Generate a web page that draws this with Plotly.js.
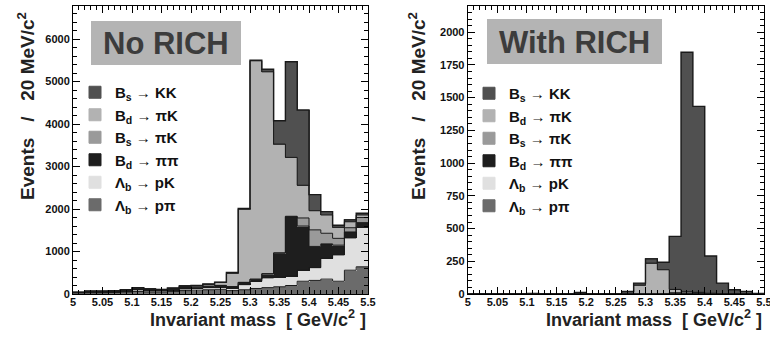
<!DOCTYPE html>
<html>
<head>
<meta charset="utf-8">
<script src="https://cdn.plot.ly/plotly-3.0.1.min.js"></script>
<style>html,body{margin:0;padding:0;background:#fff;}#chart{width:770px;height:337px;}</style>
</head>
<body>
<div id="chart"></div>
<script>
// Bin left edges (20 MeV/c^2 bins)
const massBins = [5.00,5.02,5.04,5.06,5.08,5.10,5.12,5.14,5.16,5.18,5.20,5.22,5.24,5.26,5.28,5.30,5.32,5.34,5.36,5.38,5.40,5.42,5.44,5.46,5.48];
const binWidth = 0.02;

// "No RICH" panel, one array per decay channel (events per bin)
const noRich_Lb_ppi  = [20,30,30,35,40,60,50,50,60,80,90,100,110, 80,100,130,150,170,200,300,320,350,300,560,640];
const noRich_Lb_pK   = [10,15,15,20,30,40,30,30,30,40,40,50,50, 60,120,170,230,230,220,260,300,490,620,760,930];
const noRich_Bd_pipi = [5,10,10,10,10,20,15,10,20,30,30,30,40, 30,50,45,90,560,1400,1040,500,340,230,140,110];
const noRich_Bs_piK  = [2,2,2,2,2,2,2,2,2,2,2,3,3, 5,5,5,10,10,10,190,390,250,160,100,120];
const noRich_Bd_piK  = [6,11,11,11,15,25,20,15,25,34,33,47,72, 315,1725,5140,4750,2560,1386,770,450,430,260,140,60];
const noRich_Bs_KK   = [2,2,2,2,3,3,3,3,3,4,5,5,5, 20,16,16,60,550,2251,1770,380,80,50,45,40];

// "With RICH" panel
const withRich_Lb_ppi  = [0,0,0,0,0,0,0,0,0,0,0,0,0,0,0,0,0,0,0,0,0,1,1,1,0];
const withRich_Lb_pK   = [0,0,0,0,0,0,0,0,0,0,0,0,0,0,0,0,0,0,0,1,2,2,1,1,0];
const withRich_Bd_pipi = [0,0,0,0,0,0,0,0,0,0,0,0,0,0,0,0,0,2,2,2,0,0,0,0,0];
const withRich_Bs_piK  = [0,0,0,0,0,0,0,0,0,0,0,0,0,0,0,0,0,8,5,5,3,0,0,0,0];
const withRich_Bd_piK  = [0,0,0,0,0,0,0,0,0,0,0,0,0,5,68,236,185,25,10,5,0,0,0,0,0];
const withRich_Bs_KK   = [0,3,3,0,2,5,3,2,2,12,3,2,3,15,15,32,57,405,1830,1420,285,80,30,18,5];

// Legend labels (stack order, bottom to top)
const channelNames = [
  '\u039B<sub>b</sub> \u2192 p\u03C0',
  '\u039B<sub>b</sub> \u2192 pK',
  'B<sub>d</sub> \u2192 \u03C0\u03C0',
  'B<sub>s</sub> \u2192 \u03C0K',
  'B<sub>d</sub> \u2192 \u03C0K',
  'B<sub>s</sub> \u2192 KK'
];
const channelColors = ['#6b6b6b','#e0e0e0','#1e1e1e','#9a9a9a','#b2b2b2','#505050'];

const xTickVals = [5,5.05,5.1,5.15,5.2,5.25,5.3,5.35,5.4,5.45,5.5];
const xTickText = ['5','5.05','5.1','5.15','5.2','5.25','5.3','5.35','5.4','5.45','5.5'];
const yTickValsL = [0,1000,2000,3000,4000,5000,6000];
const yTickValsR = [0,250,500,750,1000,1250,1500,1750,2000];

const panels = [
  {series:[noRich_Lb_ppi,noRich_Lb_pK,noRich_Bd_pipi,noRich_Bs_piK,noRich_Bd_piK,noRich_Bs_KK], xa:'x', ya:'y', leg:'legend'},
  {series:[withRich_Lb_ppi,withRich_Lb_pK,withRich_Bd_pipi,withRich_Bs_piK,withRich_Bd_piK,withRich_Bs_KK], xa:'x2', ya:'y2', leg:'legend2'}
];

const traces = [];
panels.forEach(p => {
  p.series.forEach((vals, i) => {
    traces.push({
      type:'bar', x:massBins, y:vals, width:binWidth, offset:0,
      xaxis:p.xa, yaxis:p.ya, legend:p.leg, name:channelNames[i],
      marker:{color:channelColors[i], line:{color:channelColors[i], width:1}},
      hoverinfo:'skip'
    });
  });
});
// step outlines of each stacked level
const stepX = massBins.concat([massBins[massBins.length-1] + binWidth]);
panels.forEach(p => {
  const cum = massBins.map(() => 0);
  p.series.forEach((vals, i) => {
    vals.forEach((v, k) => { cum[k] += v; });
    const yy = cum.slice(); yy.push(cum[cum.length-1]);
    traces.push({
      type:'scatter', mode:'lines', x:stepX, y:yy, xaxis:p.xa, yaxis:p.ya,
      line:{shape:'hv', color:'#1a1a1a', width:(i===p.series.length-1)?1.4:1},
      showlegend:false, hoverinfo:'skip'
    });
  });
});

// plot area spans pixel rows 6..294; paper y = (294 - py)/288
const PY = py => (294 - py) / 288;
const PX = px => px / 770;

const tickFont = {family:'Liberation Sans Narrow, Liberation Sans, Arial, sans-serif', size:11, weight:'bold', color:'#111'};
const baseX = {
  range:[5,5.5], tickvals:xTickVals, ticktext:xTickText, ticks:'inside', ticklen:7, tickcolor:'#000',
  showline:true, linecolor:'#000', linewidth:1, mirror:'ticks', showgrid:false, zeroline:false,
  tickfont:tickFont, ticklabeloverflow:'allow', ticklabelstandoff:-2,
  minor:{ticks:'inside', dtick:0.01, ticklen:4, tickcolor:'#000', showgrid:false}
};
const baseY = {
  ticks:'inside', ticklen:7, tickcolor:'#000', showline:true, linecolor:'#000', linewidth:1, mirror:'ticks',
  showgrid:false, zeroline:false, tickfont:tickFont, ticklabeloverflow:'allow'
};

const titleFont = {family:'Liberation Sans, Arial, sans-serif', size:18, weight:'bold', color:'#222'};
const yTitleFont = {family:'Liberation Sans, Arial, sans-serif', size:19, weight:'bold', color:'#222'};
const legFont = {family:'Liberation Sans, Arial, sans-serif', size:15, weight:'bold', color:'#111'};
const boxFont = {family:'Liberation Sans, Arial, sans-serif', size:31, weight:'bold', color:'#3c3c3c'};
const yTitle = 'Events&nbsp;&nbsp;&nbsp;/&nbsp;&nbsp;&nbsp;20 MeV/c<sup>2</sup>';
const xTitle = 'Invariant mass&nbsp;&nbsp;[ GeV/c<sup>2</sup> ]';

const layout = {
  width:770, height:337, margin:{l:0,r:0,t:6,b:43},
  paper_bgcolor:'#fff', plot_bgcolor:'#fff',
  barmode:'stack', bargap:0,
  xaxis:Object.assign({}, baseX, {domain:[PX(73), PX(368)], anchor:'y'}),
  yaxis:Object.assign({}, baseY, {range:[0,6780], tickvals:yTickValsL, anchor:'x', minor:{ticks:'inside', dtick:200, ticklen:4, tickcolor:'#000'}}),
  xaxis2:Object.assign({}, baseX, {domain:[PX(467.7), PX(764)], anchor:'y2'}),
  yaxis2:Object.assign({}, baseY, {range:[0,2200], tickvals:yTickValsR, anchor:'x2', minor:{ticks:'inside', dtick:50, ticklen:4, tickcolor:'#000'}}),
  legend:{x:PX(75), y:PY(76), xanchor:'left', yanchor:'top', bgcolor:'rgba(0,0,0,0)', font:legFont, traceorder:'reversed'},
  legend2:{x:PX(469), y:PY(77), xanchor:'left', yanchor:'top', bgcolor:'rgba(0,0,0,0)', font:legFont, traceorder:'reversed'},
  shapes:[
    {type:'rect', xref:'paper', yref:'paper', x0:PX(91), x1:PX(241), y0:PY(65), y1:PY(21), fillcolor:'#b4b4b4', line:{width:0}},
    {type:'rect', xref:'paper', yref:'paper', x0:PX(487), x1:PX(662), y0:PY(64), y1:PY(19), fillcolor:'#b4b4b4', line:{width:0}}
  ],
  annotations:[
    {text:'No RICH', xref:'paper', yref:'paper', x:PX(166), y:PY(44), xanchor:'center', yanchor:'middle', showarrow:false, font:boxFont},
    {text:'With RICH', xref:'paper', yref:'paper', x:PX(574), y:PY(42), xanchor:'center', yanchor:'middle', showarrow:false, font:boxFont},
    {text:yTitle, xref:'paper', yref:'paper', x:PX(26), y:PY(106), xanchor:'center', yanchor:'middle', textangle:-90, showarrow:false, font:yTitleFont},
    {text:yTitle, xref:'paper', yref:'paper', x:PX(417), y:PY(106), xanchor:'center', yanchor:'middle', textangle:-90, showarrow:false, font:yTitleFont},
    {text:xTitle, xref:'x', yref:'paper', x:5.5, y:PY(318), xanchor:'right', yanchor:'middle', showarrow:false, font:titleFont},
    {text:xTitle, xref:'x2', yref:'paper', x:5.5, y:PY(318), xanchor:'right', yanchor:'middle', showarrow:false, font:titleFont}
  ]
};

Plotly.newPlot('chart', traces, layout, {staticPlot:true, displayModeBar:false});
</script>
</body>
</html>
